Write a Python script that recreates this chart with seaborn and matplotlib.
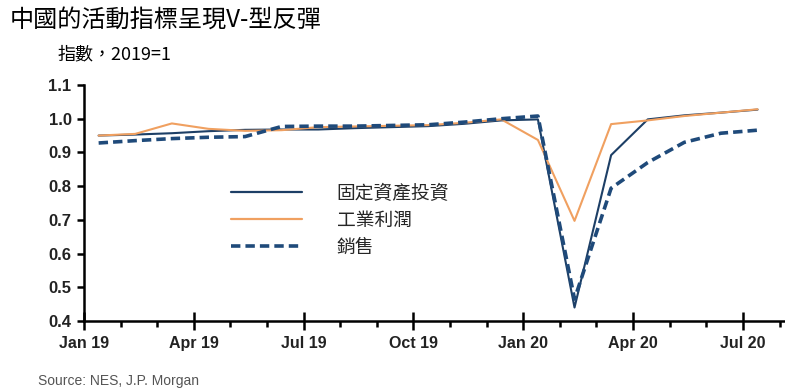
import numpy as np
import pandas as pd
import matplotlib
matplotlib.use("Agg")
import matplotlib.pyplot as plt
import seaborn as sns
from matplotlib.lines import Line2D

months = ["Jan 19", "Feb 19", "Mar 19", "Apr 19", "May 19", "Jun 19", "Jul 19",
          "Aug 19", "Sep 19", "Oct 19", "Nov 19", "Dec 19", "Jan 20", "Feb 20",
          "Mar 20", "Apr 20", "May 20", "Jun 20", "Jul 20"]
fixed_investment = [0.950, 0.953, 0.957, 0.963, 0.967, 0.968, 0.968, 0.972, 0.975,
                    0.978, 0.985, 0.995, 0.998, 0.440, 0.892, 0.998, 1.010, 1.018, 1.027]
industrial_profit = [0.950, 0.955, 0.986, 0.970, 0.964, 0.966, 0.975, 0.977, 0.979,
                     0.981, 0.988, 0.998, 0.937, 0.697, 0.984, 0.995, 1.008, 1.018, 1.028]
sales = [0.928, 0.935, 0.941, 0.945, 0.947, 0.977, 0.978, 0.978, 0.980,
         0.982, 0.990, 1.000, 1.008, 0.465, 0.794, 0.870, 0.930, 0.957, 0.966]
series_names = ["固定資產投資", "工業利潤", "銷售"]
tick_labels = ["Jan 19", "Apr 19", "Jul 19", "Oct 19", "Jan 20", "Apr 20", "Jul 20"]

df = pd.DataFrame({
    "month": months * 3,
    "pos": list(np.arange(len(months)) + 0.4) * 3,
    "value": fixed_investment + industrial_profit + sales,
    "series": [series_names[0]] * len(months) + [series_names[1]] * len(months)
              + [series_names[2]] * len(months),
})

sns.set_theme(style="white")
plt.rcParams["font.family"] = ["Noto Sans CJK TC", "DejaVu Sans"]

fig = plt.figure(figsize=(7.85, 3.91), dpi=100)
ax = fig.add_axes([84 / 785, 1 - 321 / 391, 1 - 84 / 785, (321 - 85) / 391])

palette = {series_names[0]: "#1d3f66", series_names[1]: "#f0a060", series_names[2]: "#1f4a7a"}
dash_pattern = (2.6, 1.4)
sns.lineplot(data=df, x="pos", y="value", hue="series", style="series",
             palette=palette, dashes={series_names[0]: "", series_names[1]: "",
                                      series_names[2]: dash_pattern},
             ax=ax, legend=False, sort=False)
widths = {0: 1.5, 1: 1.5, 2: 2.6}
for i, line in enumerate(ax.get_lines()):
    line.set_linewidth(widths.get(i, 1.5))

ax.set_xlim(0, 19.15)
ax.set_ylim(0.4, 1.1)
ax.set_xlabel("")
ax.set_ylabel("")

major = [months.index(t) for t in tick_labels]
ax.set_xticks(major)
ax.set_xticklabels(tick_labels, fontfamily="Liberation Sans", fontweight="bold",
                   fontsize=11.5, color="#222222")
ax.set_xticks(np.arange(0, 20), minor=True)
ax.tick_params(axis="x", which="major", direction="inout", length=13, width=1.8,
               color="black", pad=4, bottom=True)
ax.tick_params(axis="x", which="minor", direction="out", length=4, width=1.8,
               color="black", bottom=True)

yt = np.round(np.arange(0.4, 1.101, 0.1), 1)
ax.set_yticks(yt)
ax.set_yticklabels([f"{v:.1f}" for v in yt], fontfamily="Liberation Sans",
                   fontweight="bold", fontsize=12, color="#222222")
ax.tick_params(axis="y", direction="out", length=5, width=1.8, color="black",
               left=True, pad=4)

for side in ["top", "right"]:
    ax.spines[side].set_visible(False)
for side in ["left", "bottom"]:
    ax.spines[side].set_linewidth(1.8)
    ax.spines[side].set_color("black")

# legend drawn as plain handles next to the labels
handles = [Line2D([], [], color=palette[series_names[0]], lw=1.6),
           Line2D([], [], color=palette[series_names[1]], lw=1.6),
           Line2D([], [], color=palette[series_names[2]], lw=2.6, dashes=dash_pattern)]
leg = ax.legend(handles, series_names, loc="upper left",
                bbox_to_anchor=((214 - 84) / 701, 1 - (166 - 85) / 236),
                frameon=False, handlelength=3.8, handletextpad=1.85,
                labelspacing=0.32,
                prop={"family": ["Noto Sans CJK TC", "DejaVu Sans"],
                      "size": 13.5, "weight": "medium"})

fig.text(10 / 785, 1 - 20 / 391, "中國的活動指標呈現V-型反彈", fontsize=17.4,
         va="center", ha="left", color="black", fontweight="medium")
fig.text(58 / 785, 1 - 54 / 391, "指數，2019=1", fontsize=13, va="center",
         ha="left", color="black", fontweight="medium")
fig.text(38 / 785, 1 - 381 / 391, "Source: NES, J.P. Morgan", fontsize=10,
         fontfamily="Liberation Sans", va="center", ha="left", color="#555555")

fig.savefig("out.png", dpi=100)
